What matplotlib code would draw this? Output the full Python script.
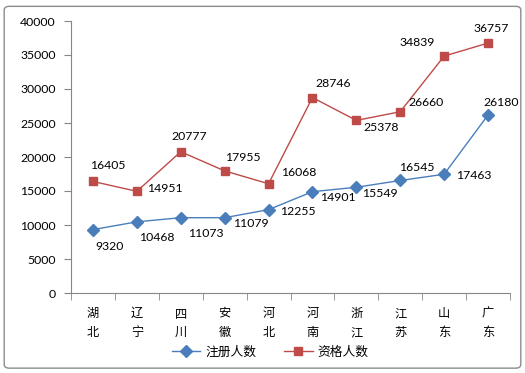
import matplotlib
matplotlib.use("Agg")
import matplotlib.pyplot as plt
from matplotlib.patches import FancyBboxPatch
import numpy as np

plt.rcParams['font.family'] = ['Noto Sans CJK SC', 'DejaVu Sans']

categories = ["湖北", "辽宁", "四川", "安徽", "河北", "河南", "浙江", "江苏", "山东", "广东"]
registered = [9320, 10468, 11073, 11079, 12255, 14901, 15549, 16545, 17463, 26180]
qualified = [16405, 14951, 20777, 17955, 16068, 28746, 25378, 26660, 34839, 36757]
yticks = [0, 5000, 10000, 15000, 20000, 25000, 30000, 35000, 40000]

reg_off = [(17, -17), (20, -16), (25, -16), (26, -6), (29, -2), (25, -6), (23, -6), (17, 13), (30, -1), (13, 12)]
qual_off = [(15, 16), (28, 3), (9, 15), (18, 13), (30, 11), (21, 14), (25, -7), (26, 9), (-27, 14), (3, 15)]

blue = '#4A7EBB'
red = '#BE4B48'

fig = plt.figure(figsize=(5.25, 3.73), dpi=100)
fig.patches.append(FancyBboxPatch((0.008, 0.013), 0.984, 0.97, boxstyle="round,pad=0,rounding_size=0.01",
                                  transform=fig.transFigure, fill=False, edgecolor='#8C8C8C', linewidth=1))
ax = fig.add_axes([71/525, 1-293/373, (510-71)/525, (293-21)/373])

x = np.arange(len(categories))
ax.plot(x, registered, color=blue, marker='D', markersize=6, linewidth=1, label='注册人数')
ax.plot(x, qualified, color=red, marker='s', markersize=5.2, linewidth=1, label='资格人数')

num_font = ['Lato', 'DejaVu Sans']
for i, v in enumerate(registered):
    ax.annotate(str(v), (x[i], v), xytext=reg_off[i], textcoords='offset pixels',
                ha='center', va='center', fontsize=8.8, family=num_font)
for i, v in enumerate(qualified):
    ax.annotate(str(v), (x[i], v), xytext=qual_off[i], textcoords='offset pixels',
                ha='center', va='center', fontsize=8.8, family=num_font)

ax.set_xlim(-0.5, len(categories) - 0.5)
ax.set_ylim(0, 40000)
ax.set_yticks(yticks)
ax.set_yticklabels([str(t) for t in yticks], fontsize=8.8, family=num_font)
ax.set_xticks(x)
ax.set_xticklabels(["\n".join(c) for c in categories], fontsize=8.8, linespacing=1.6)
ax.tick_params(axis='x', length=0, pad=10)
ax.set_xticks(np.arange(-0.5, len(categories)), minor=True)
ax.tick_params(axis='x', which='minor', length=5, color='#868686')
ax.tick_params(axis='y', length=5, color='#868686', pad=6)
for s in ['top', 'right']:
    ax.spines[s].set_visible(False)
for s in ['left', 'bottom']:
    ax.spines[s].set_color('#868686')

fig.legend(loc='center', bbox_to_anchor=(0.515, 1 - 352/373), ncol=2, frameon=False,
           fontsize=9.2, handlelength=2.2, handletextpad=0.4, columnspacing=2.2,
           bbox_transform=fig.transFigure)

fig.savefig('out.png', dpi=100)
